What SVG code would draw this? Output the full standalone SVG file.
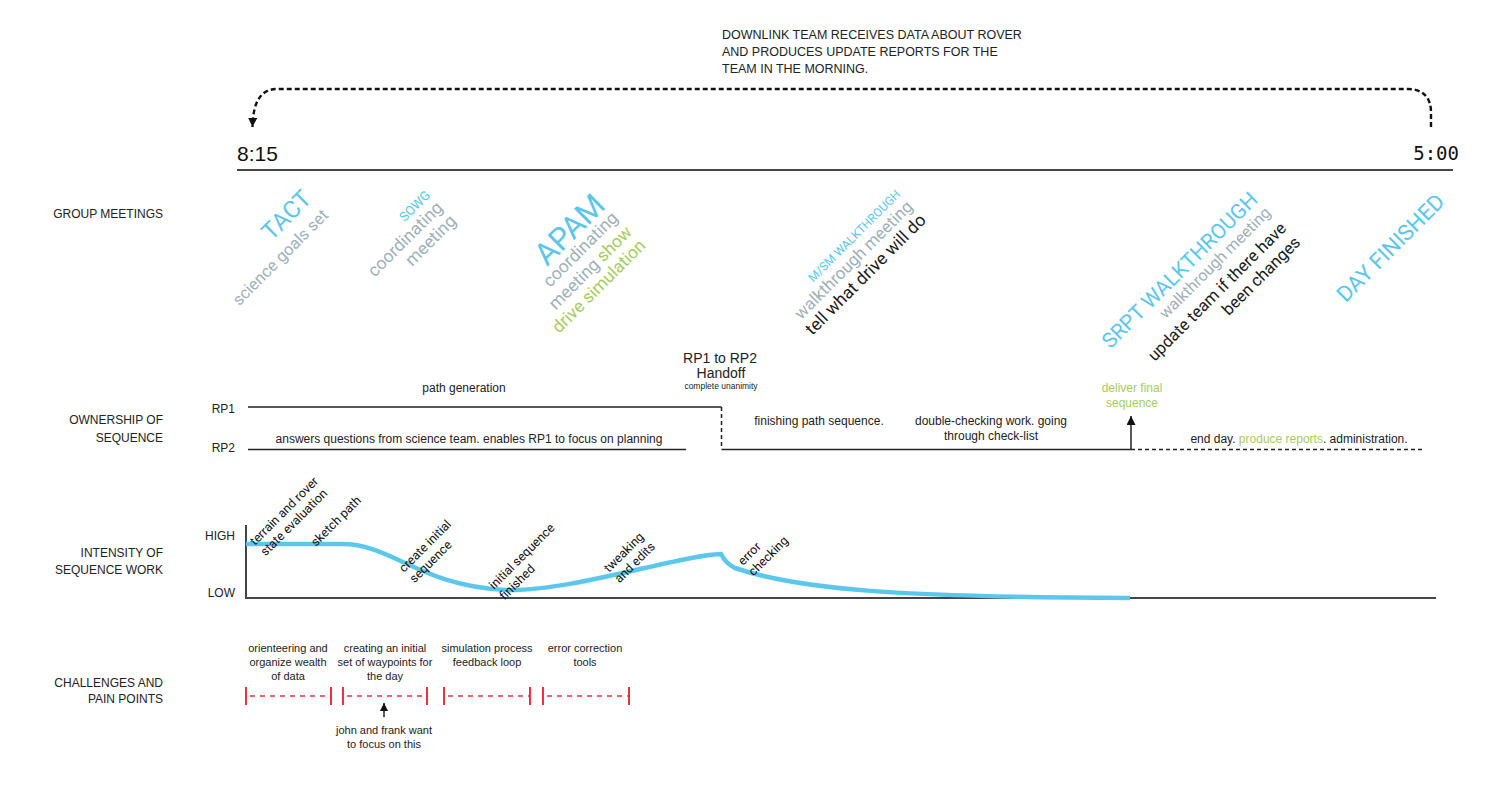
<svg xmlns="http://www.w3.org/2000/svg" width="1500" height="785" viewBox="0 0 1500 785">
<style>
.sans{font-family:"Liberation Sans",Arial,sans-serif;fill:#222}
.lbl{font-size:12px;text-anchor:end}
.own{font-size:12px;text-anchor:middle}
.ch{font-size:11px;text-anchor:middle}
.top{font-size:12.5px}
.rot{font-family:Roboto,"Liberation Sans",sans-serif;text-anchor:end}
.cl{font-family:Roboto,"Liberation Sans",sans-serif;font-size:12.5px;fill:#111}
.blue{fill:#5BC6EA}
.gray{fill:#9FB0B7}
.green{fill:#A6CC5B}
.dark{fill:#1a1a1a}
.axis{stroke:#444;stroke-width:2;fill:none}
.solid{stroke:#222;stroke-width:1.5;fill:none}
.dash{stroke:#222;stroke-width:1.5;fill:none;stroke-dasharray:4 3}
.red{stroke:#E8323C;fill:none}
</style>
<defs>
<marker id="ah" viewBox="0 0 10 10" refX="10" refY="5" markerWidth="9" markerHeight="9" markerUnits="userSpaceOnUse" orient="auto"><path d="M0,0 L10,5 L0,10 z" fill="#111"/></marker>
<marker id="ahs" viewBox="0 0 10 10" refX="10" refY="5" markerWidth="8" markerHeight="8" markerUnits="userSpaceOnUse" orient="auto"><path d="M0,0 L10,5 L0,10 z" fill="#111"/></marker>
</defs>
<rect width="1500" height="785" fill="#fff"/>

<g id="downlink-note" class="sans top">
<text x="722" y="39">DOWNLINK TEAM RECEIVES DATA ABOUT ROVER</text>
<text x="722" y="56">AND PRODUCES UPDATE REPORTS FOR THE</text>
<text x="722" y="73">TEAM IN THE MORNING.</text>
</g>

<g id="timeline">
<text x="237" y="161" font-family="Liberation Sans,Arial,sans-serif" font-size="21" fill="#111">8:15</text>
<text x="1459" y="160" font-family="DejaVu Sans Mono,monospace" font-size="19" fill="#111" text-anchor="end">5:00</text>
<line x1="237" y1="170" x2="1453" y2="170" stroke="#444" stroke-width="2"/>
</g>

<g id="row-labels" class="sans lbl">
<text x="163" y="217.5">GROUP MEETINGS</text>
<text x="163" y="423.5">OWNERSHIP OF</text>
<text x="163" y="441.5">SEQUENCE</text>
<text x="163" y="556.5">INTENSITY OF</text>
<text x="163" y="573.5">SEQUENCE WORK</text>
<text x="163" y="686.5">CHALLENGES AND</text>
<text x="163" y="702.5">PAIN POINTS</text>
<text x="235" y="412.5">RP1</text>
<text x="235" y="451.5">RP2</text>
<text x="235" y="539.5">HIGH</text>
<text x="235" y="596.5">LOW</text>
</g>

<g id="meeting-tact" class="rot" transform="translate(313,200) rotate(-45)">
<text class="blue" font-size="24" x="0" y="0">TACT</text>
<text class="gray" font-size="16.5" x="0" y="23">science goals set</text>
</g>
<g id="meeting-sowg" class="rot" transform="translate(431,196) rotate(-45)">
<text class="blue" font-size="13" x="0" y="0">SOWG</text>
<text class="gray" font-size="17.5" x="0" y="18">coordinating</text>
<text class="gray" font-size="17.5" x="0" y="37">meeting</text>
</g>
<g id="meeting-apam" class="rot" transform="translate(607,207) rotate(-45)">
<text class="blue" font-size="31" x="0" y="0">APAM</text>
<text class="gray" font-size="17.5" x="0" y="17">coordinating</text>
<text class="gray" font-size="17.5" x="0" y="37">meeting <tspan class="green">show</tspan></text>
<text class="green" font-size="17.5" x="0" y="56">drive simulation</text>
</g>
<g id="meeting-msm" class="rot" transform="translate(901,195) rotate(-45)">
<text class="blue" font-size="12" x="0" y="0">M/SM WALKTHROUGH</text>
<text class="gray" font-size="17" x="0" y="18">walkthrough meeting</text>
<text class="dark" font-size="17.5" x="0" y="37">tell what drive will do</text>
</g>
<g id="meeting-srpt" class="rot" transform="translate(1259,201) rotate(-45)">
<text class="blue" font-size="21" x="0" y="0">SRPT WALKTHROUGH</text>
<text class="gray" font-size="16" x="0" y="18">walkthrough meeting</text>
<text class="dark" font-size="16.6" x="0" y="40">update team if there have</text>
<text class="dark" font-size="16.6" x="0" y="60">been changes</text>
</g>
<g id="meeting-day-finished" class="rot" transform="translate(1446,203) rotate(-45)">
<text class="blue" font-size="22" x="0" y="0">DAY FINISHED</text>
</g>

<g id="connectors">
<path d="M1431,127 L1431,112 C1431,98 1423,89 1408,89 L277,89 C262,89 253,100 252.5,127" fill="none" stroke="#111" stroke-width="2.4" stroke-dasharray="5 3" marker-end="url(#ah)"/>
<line class="solid" x1="248" y1="407" x2="721.5" y2="407"/>
<line class="dash" x1="721.5" y1="407" x2="721.5" y2="449"/>
<line class="solid" x1="248" y1="449.5" x2="686" y2="449.5"/>
<line class="solid" x1="721.5" y1="449.5" x2="1131" y2="449.5"/>
<line class="solid" x1="1131" y1="449.5" x2="1131" y2="416" marker-end="url(#ah)"/>
<line class="dash" x1="1131" y1="449.5" x2="1425" y2="449.5"/>
<line class="solid" x1="384" y1="717" x2="384" y2="703" marker-end="url(#ahs)"/>
</g>

<g id="ownership-labels" class="sans own">
<text x="464" y="392">path generation</text>
<text x="469" y="443">answers questions from science team. enables RP1 to focus on planning</text>
<text x="720" y="363" font-size="14">RP1 to RP2</text>
<text x="721" y="378" font-size="14">Handoff</text>
<text x="721" y="389" font-size="8.5">complete unanimity</text>
<text x="819" y="425">finishing path sequence.</text>
<text x="991" y="425">double-checking work. going</text>
<text x="991" y="440">through check-list</text>
<text x="1132" y="392" class="green">deliver final</text>
<text x="1132" y="407" class="green">sequence</text>
<text x="1299" y="443">end day. <tspan class="green">produce reports</tspan>. administration.</text>
</g>

<g id="intensity-chart">
<path class="axis" d="M246,525 L246,598 L1436,598"/>
<path d="M246,544 L342,544 C392,544 420,586 506,590 C570,592 680,555 721,554 C724,560 727,564 735,568 C800,590 900,597 1130,598" fill="none" stroke="#5BC8EB" stroke-width="4.5"/>
</g>

<g id="intensity-labels" class="cl">
<g transform="translate(255,546) rotate(-45)"><text x="0" y="0">terrain and rover</text><text x="0" y="15">state evaluation</text></g>
<g transform="translate(316,547) rotate(-45)"><text x="0" y="0">sketch path</text></g>
<g transform="translate(404,573) rotate(-45)"><text x="0" y="0">create initial</text><text x="0" y="15">sequence</text></g>
<g transform="translate(494,590) rotate(-45)"><text x="0" y="0">initial sequence</text><text x="0" y="15">finished</text></g>
<g transform="translate(609,573) rotate(-45)"><text x="0" y="0">tweaking</text><text x="0" y="15">and edits</text></g>
<g transform="translate(743,566) rotate(-45)"><text x="0" y="0">error</text><text x="0" y="15">checking</text></g>
</g>

<g id="pain-1">
<line class="red" x1="246" y1="696" x2="331" y2="696" stroke-width="1.5" stroke-dasharray="5 5" stroke-dashoffset="-4"/>
<path class="red" d="M246,687 V705 M331,687 V705" stroke-width="2"/>
<text class="sans ch" x="288" y="652">orienteering and</text>
<text class="sans ch" x="288" y="666">organize wealth</text>
<text class="sans ch" x="288" y="680">of data</text>
</g>
<g id="pain-2">
<line class="red" x1="343" y1="696" x2="427" y2="696" stroke-width="1.5" stroke-dasharray="5 5" stroke-dashoffset="-4"/>
<path class="red" d="M343,687 V705 M427,687 V705" stroke-width="2"/>
<text class="sans ch" x="385" y="652">creating an initial</text>
<text class="sans ch" x="385" y="666">set of waypoints for</text>
<text class="sans ch" x="385" y="680">the day</text>
<text class="sans ch" x="384" y="734">john and frank want</text>
<text class="sans ch" x="384" y="748">to focus on this</text>
</g>
<g id="pain-3">
<line class="red" x1="444" y1="696" x2="530" y2="696" stroke-width="1.5" stroke-dasharray="5 5" stroke-dashoffset="-4"/>
<path class="red" d="M444,687 V705 M530,687 V705" stroke-width="2"/>
<text class="sans ch" x="487" y="652">simulation process</text>
<text class="sans ch" x="487" y="666">feedback loop</text>
</g>
<g id="pain-4">
<line class="red" x1="543" y1="696" x2="629" y2="696" stroke-width="1.5" stroke-dasharray="5 5" stroke-dashoffset="-4"/>
<path class="red" d="M543,687 V705 M629,687 V705" stroke-width="2"/>
<text class="sans ch" x="585" y="652">error correction</text>
<text class="sans ch" x="585" y="666">tools</text>
</g>
</svg>
